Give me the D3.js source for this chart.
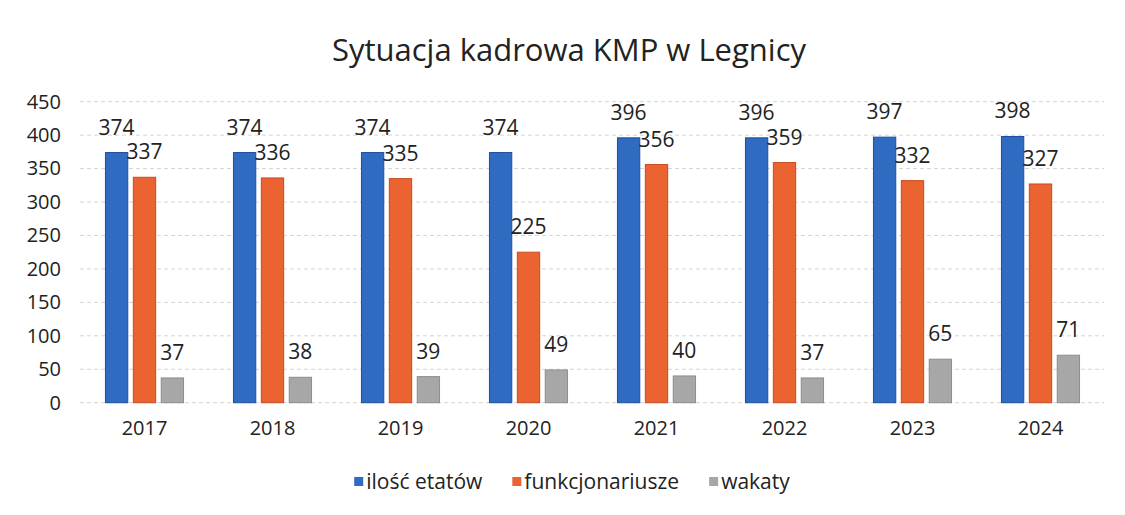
<!DOCTYPE html>
<html>
<head>
	<meta charset="utf-8">
	<script src="https://d3js.org/d3.v7.min.js"></script>
	<style>
		body { margin: 0; background: #fff; }
		svg text { font-family: "Open Sans", sans-serif; fill: #222; }
	</style>
</head>
<body>
	<div id="chart"></div>
	<script type="text/javascript">
		"use strict";

		// data
		var years = ["2017", "2018", "2019", "2020", "2021", "2022", "2023", "2024"];
		var etaty = [374, 374, 374, 374, 396, 396, 397, 398];
		var funkcjonariusze = [337, 336, 335, 225, 356, 359, 332, 327];
		var wakaty = [37, 38, 39, 49, 40, 37, 65, 71];
		var seriesNames = ["ilość etatów", "funkcjonariusze", "wakaty"];
		var yTicks = [0, 50, 100, 150, 200, 250, 300, 350, 400, 450];

		var colors = ["#2f6bc1", "#ea6330", "#a7a7a7"];
		var strokes = ["#1d4f9e", "#c94a1e", "#8d8d8d"];

		var width = 1125,
			height = 515;

		var svg = d3.select("#chart")
			.append("svg")
			.attr("width", width)
			.attr("height", height);

		// title
		svg.append("text")
			.attr("x", 569)
			.attr("y", 61)
			.attr("text-anchor", "middle")
			.style("font-size", "31px")
			.text("Sytuacja kadrowa KMP w Legnicy");

		// step of 128px per year, groups ~78px wide
		var x = d3.scaleBand()
			.domain(years)
			.range([80.5, 1104.5])
			.paddingInner(0.39)
			.paddingOuter(0.195);

		var xs = d3.scaleBand()
			.domain(seriesNames)
			.range([0, x.bandwidth()])
			.paddingInner(0.2);

		var y = d3.scaleLinear()
			.domain([0, 450])
			.range([402.7, 101.7]);

		// grid lines
		svg.append("g")
			.selectAll("line")
			.data(yTicks)
			.enter()
			.append("line")
			.attr("x1", 80)
			.attr("x2", 1104)
			.attr("y1", function(d) { return y(d); })
			.attr("y2", function(d) { return y(d); })
			.attr("stroke", "#d4d4d4")
			.attr("stroke-dasharray", "4,3");

		// y axis labels
		var yAxis = svg.append("g")
			.attr("transform", "translate(61,0)")
			.call(d3.axisLeft(y).tickValues(yTicks).tickSize(0).tickPadding(0));
		yAxis.select(".domain").remove();
		yAxis.selectAll("text").style("font-size", "20px").attr("fill", "#222");

		// x axis labels
		var xAxis = svg.append("g")
			.attr("transform", "translate(0,421)")
			.call(d3.axisBottom(x).tickSize(0).tickPadding(0));
		xAxis.select(".domain").remove();
		xAxis.selectAll("text").style("font-size", "20px").attr("fill", "#222");

		var values = [etaty, funkcjonariusze, wakaty];

		var groups = svg.append("g")
			.selectAll("g")
			.data(years)
			.enter()
			.append("g")
			.attr("transform", function(d) { return "translate(" + x(d) + ",0)"; });

		groups.each(function(year, i) {
			var g = d3.select(this);
			seriesNames.forEach(function(s, k) {
				var v = values[k][i];
				g.append("rect")
					.attr("x", xs(s))
					.attr("y", y(v))
					.attr("width", xs.bandwidth())
					.attr("height", y(0) - y(v))
					.attr("fill", colors[k])
					.attr("stroke", strokes[k])
					.attr("stroke-width", 1);
				g.append("text")
					.attr("x", xs(s) + xs.bandwidth() / 2)
					.attr("y", y(v) - 18)
					.attr("text-anchor", "middle")
					.style("font-size", "21px")
					.text(v);
			});
		});

		// legend
		var legend = svg.append("g");
		var lx = 0;
		seriesNames.forEach(function(s, k) {
			var item = legend.append("g").attr("transform", "translate(" + lx + ",0)");
			item.append("rect")
				.attr("x", 0)
				.attr("y", 477)
				.attr("width", 9)
				.attr("height", 9)
				.attr("fill", colors[k]);
			var t = item.append("text")
				.attr("x", 12)
				.attr("y", 489)
				.style("font-size", "21px")
				.text(s);
			lx += 12 + t.node().getComputedTextLength() + 30;
		});
		var legendWidth = lx - 30;
		legend.attr("transform", "translate(" + (572 - legendWidth / 2) + ",0)");
	</script>
</body>
</html>
